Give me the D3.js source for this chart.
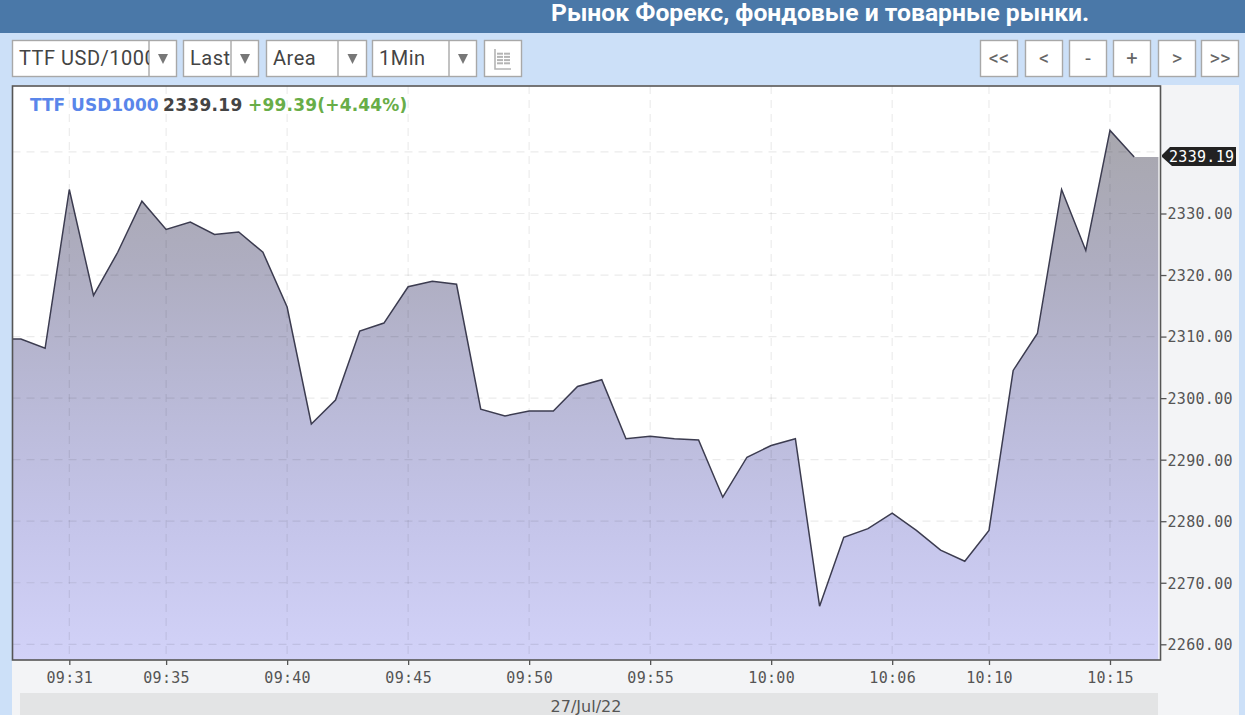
<!DOCTYPE html>
<html>
<head>
<meta charset="utf-8">
<script src="https://cdn.jsdelivr.net/npm/d3@7"></script>
<style>
  html, body { margin: 0; padding: 0; background: #cce0f8; overflow: hidden; }
  svg { display: block; }
  .mono { font-family: "DejaVu Sans Mono", monospace; font-size: 15px; letter-spacing: 0.3px; fill: #555; }
  .ctl { font-family: Roboto, sans-serif; font-size: 20px; letter-spacing: 0.5px; fill: #444; }
</style>
</head>
<body>
<svg width="1245" height="715"></svg>
<script>
// 数据
const categories = [
  "09:28","09:29","09:30","09:31","09:32","09:33","09:34","09:35","09:36","09:37","09:38","09:39",
  "09:40","09:41","09:42","09:43","09:44","09:45","09:46","09:47","09:48","09:49","09:50","09:51",
  "09:52","09:53","09:54","09:55","09:56","09:57","09:58","09:59","10:00","10:01","10:02","10:03",
  "10:04","10:06","10:07","10:08","10:09","10:10","10:11","10:12","10:13","10:14","10:15","10:16"
];
const prices = [
  2309.6,2309.6,2308.1,2333.9,2316.7,2323.7,2332.0,2327.4,2328.6,2326.6,2327.0,2323.7,
  2314.8,2295.8,2299.7,2310.9,2312.2,2318.1,2319.0,2318.5,2298.2,2297.1,2297.9,2297.9,
  2301.9,2303.0,2293.4,2293.8,2293.4,2293.2,2283.9,2290.4,2292.3,2293.4,2266.2,2277.4,
  2278.8,2281.3,2278.5,2275.3,2273.5,2278.5,2304.5,2310.5,2333.9,2324.0,2343.5,2339.19
];
const timeTicks = ["09:31","09:35","09:40","09:45","09:50","09:55","10:00","10:06","10:10","10:15"];
const priceTicks = [2260,2270,2280,2290,2300,2310,2320,2330,2340];
const selectLabels = ["TTF USD/1000","Last","Area","1Min"];
const navLabels = ["<<","<","-","+",">",">>"];
const titleText = "Рынок Форекс, фондовые и товарные рынки.";
const dateLabel = "27/Jul/22";
const legendParts = ["TTF USD1000","2339.19","+99.39(+4.44%)"];
const lastPrice = 2339.19;

const svg = d3.select("svg");
const plot = { left: 12.5, right: 1160.5, top: 86, bottom: 660 };

// 顶部标题栏
svg.append("rect").attr("width", 1245).attr("height", 33).attr("fill", "#4a78a8");
svg.append("text")
   .attr("x", 551).attr("y", 21)
   .attr("fill", "#fff")
   .style("font-family", "Roboto, sans-serif")
   .style("font-weight", 700)
   .style("font-size", "24.7px")
   .text(titleText);

// 工具栏
const selectX = [[12, 149, 177], [183, 231, 259], [266, 338, 367], [372, 449, 477]];
const defs = svg.append("defs");
selectLabels.forEach((label, i) => {
  const [x0, xd, x1] = selectX[i];
  svg.append("rect").attr("x", x0 + 0.5).attr("y", 40.5).attr("width", x1 - x0 - 1).attr("height", 36)
     .attr("fill", "#fff").attr("stroke", "#a8a8a8").attr("stroke-width", 1.4);
  svg.append("line").attr("x1", xd).attr("x2", xd).attr("y1", 41).attr("y2", 76)
     .attr("stroke", "#a8a8a8").attr("stroke-width", 1.4);
  defs.append("clipPath").attr("id", "sel" + i)
      .append("rect").attr("x", x0).attr("y", 40).attr("width", xd - x0).attr("height", 37);
  svg.append("text").attr("class", "ctl")
     .attr("x", x0 + 7).attr("y", 65)
     .attr("clip-path", `url(#sel${i})`)
     .text(label);
  const cx = (xd + x1) / 2;
  svg.append("path").attr("d", `M${cx - 5},54 L${cx + 5},54 L${cx},64 Z`).attr("fill", "#777");
});

// 图标按钮
svg.append("rect").attr("x", 484.5).attr("y", 40.5).attr("width", 37).attr("height", 36)
   .attr("fill", "#fff").attr("stroke", "#a8a8a8").attr("stroke-width", 1.4);
svg.append("path").attr("d", "M495,49 V69 H511").attr("fill", "none").attr("stroke", "#b4b4b4").attr("stroke-width", 1.6);
d3.range(4).forEach(i => {
  d3.range(2).forEach(j => {
    svg.append("rect").attr("x", 497 + j * 7).attr("y", 52.7 + i * 3.2)
       .attr("width", 6).attr("height", 2).attr("fill", "#b4b4b4");
  });
});

const navX = [980, 1025, 1069, 1113, 1158, 1201];
navLabels.forEach((label, i) => {
  svg.append("rect").attr("x", navX[i] + 0.5).attr("y", 40.5).attr("width", 37).attr("height", 36)
     .attr("fill", "#fff").attr("stroke", "#a8a8a8").attr("stroke-width", 1.4);
  svg.append("text").attr("x", navX[i] + 19).attr("y", 65)
     .attr("text-anchor", "middle").attr("fill", "#666")
     .style("font-family", "Roboto, sans-serif").style("font-size", "20px")
     .text(label);
});

// 图表底板
svg.append("rect").attr("x", 12).attr("y", 85).attr("width", 1227).attr("height", 630).attr("fill", "#f3f4f6");
svg.append("rect").attr("x", 20).attr("y", 693).attr("width", 1138).attr("height", 22).attr("fill", "#e3e4e5");
svg.append("rect").attr("x", plot.left).attr("y", plot.top)
   .attr("width", plot.right - plot.left).attr("height", plot.bottom - plot.top).attr("fill", "#fff");

// 比例尺
const xDomain = categories.concat("10:17");   // 面积延伸到右边缘
const xScale = d3.scalePoint().domain(xDomain).range([-3.3, 1158.4]);
const yScale = d3.scaleLinear().domain([2260, 2330]).range([644.3, 213.5]);

const lineData = categories.map((c, i) => ({ t: c, v: prices[i] }));
const areaData = lineData.concat({ t: "10:17", v: prices[prices.length - 1] });

// 渐变
const grad = defs.append("linearGradient").attr("id", "areaFill")
  .attr("gradientUnits", "userSpaceOnUse")
  .attr("x1", 0).attr("x2", 0).attr("y1", yScale(d3.max(prices))).attr("y2", plot.bottom);
grad.append("stop").attr("offset", 0).attr("stop-color", "#a8a7ae");
grad.append("stop").attr("offset", 0.25).attr("stop-color", "#aeadc0");
grad.append("stop").attr("offset", 0.5).attr("stop-color", "#b9b9d6");
grad.append("stop").attr("offset", 0.75).attr("stop-color", "#c5c5ea");
grad.append("stop").attr("offset", 1).attr("stop-color", "#d2d2f8");

defs.append("clipPath").attr("id", "plotClip")
    .append("rect").attr("x", plot.left).attr("y", plot.top)
    .attr("width", plot.right - plot.left).attr("height", plot.bottom - plot.top);

const chart = svg.append("g").attr("clip-path", "url(#plotClip)");

const area = d3.area().x(d => xScale(d.t)).y0(plot.bottom).y1(d => yScale(d.v));
const line = d3.line().x(d => xScale(d.t)).y(d => yScale(d.v));

chart.append("path").datum(areaData).attr("d", area).attr("fill", "url(#areaFill)");

// 网格
chart.selectAll(".gx").data(timeTicks).enter().append("line")
     .attr("x1", d => xScale(d)).attr("x2", d => xScale(d))
     .attr("y1", plot.top).attr("y2", plot.bottom)
     .attr("stroke", "rgba(0,0,0,0.08)").attr("stroke-width", 1.2).attr("stroke-dasharray", "8 6");
chart.selectAll(".gy").data(priceTicks).enter().append("line")
     .attr("x1", plot.left).attr("x2", plot.right)
     .attr("y1", d => yScale(d)).attr("y2", d => yScale(d))
     .attr("stroke", "rgba(0,0,0,0.08)").attr("stroke-width", 1.2).attr("stroke-dasharray", "8 6");

chart.append("path").datum(lineData).attr("d", line)
     .attr("fill", "none").attr("stroke", "#3c3c50").attr("stroke-width", 1.5);

// 坐标轴
const xAxis = svg.append("g")
  .attr("transform", `translate(0,${plot.bottom})`)
  .call(d3.axisBottom(xScale).tickValues(timeTicks).tickSize(5).tickPadding(7));
const yAxis = svg.append("g")
  .attr("transform", `translate(${plot.right},0)`)
  .call(d3.axisRight(yScale).tickValues(priceTicks.slice(0, 8)).tickFormat(d3.format(".2f")).tickSize(6).tickPadding(1));
[xAxis, yAxis].forEach(a => {
  a.selectAll(".domain").remove();
  a.selectAll("line").attr("stroke", "#555").attr("stroke-width", 1.3);
  a.selectAll("text").attr("class", "mono").attr("fill", null).style("font-family", null).style("font-size", null);
  a.attr("font-family", null).attr("font-size", null);
});
yAxis.selectAll("text").attr("dy", "0.36em");

// 边框
svg.append("rect").attr("x", plot.left).attr("y", plot.top)
   .attr("width", plot.right - plot.left).attr("height", plot.bottom - plot.top)
   .attr("fill", "none").attr("stroke", "#555").attr("stroke-width", 1.6);

// 最新价标签
const tagY = yScale(lastPrice);
svg.append("path")
   .attr("d", `M1162,${tagY - 2} L1170,${tagY - 10} H1236 V${tagY + 9} H1172 L1162,${tagY} Z`)
   .attr("fill", "#222");
svg.append("text").attr("class", "mono")
   .attr("x", 1169).attr("y", tagY + 5.5)
   .style("fill", "#fff")
   .text(d3.format(".2f")(lastPrice));

// 图例
const legendColors = ["#5a86ea", "#444", "#68ad48"];
const legendX = [30, 163, 248];
const legendSpacing = [0, 0.3, 0.2];
legendParts.forEach((t, i) => {
  svg.append("text").attr("x", legendX[i]).attr("y", 110.5)
     .attr("fill", legendColors[i])
     .style("font-family", "'DejaVu Sans', sans-serif")
     .style("font-weight", 700).style("font-size", "17px")
     .style("letter-spacing", legendSpacing[i] + "px")
     .text(t);
});

// 日期
svg.append("text")
   .attr("x", 586).attr("y", 712).attr("text-anchor", "middle")
   .attr("fill", "#555")
   .style("font-family", "'DejaVu Sans', sans-serif").style("font-size", "16px")
   .text(dateLabel);
</script>
</body>
</html>
